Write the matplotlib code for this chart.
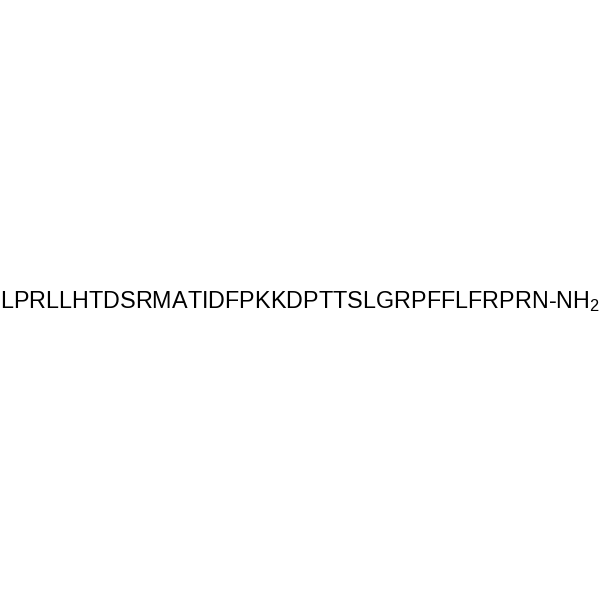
import matplotlib
matplotlib.use("Agg")
import matplotlib.pyplot as plt

# -----------------------
# Data
# -----------------------
sequence = "LPRLLHTDSRMATIDFPKKDPTTSLGRPFFLFRPRN"
terminus = "-NH$_2$"

plt.rcParams['font.family'] = ['Liberation Sans', 'DejaVu Sans']
plt.rcParams['mathtext.fontset'] = 'custom'
plt.rcParams['mathtext.rm'] = 'Liberation Sans'
plt.rcParams['mathtext.it'] = 'Liberation Sans'

fig = plt.figure(figsize=(6, 6), dpi=100)
fig.patch.set_facecolor('white')

fig.text(0.4995, 0.4975, sequence + terminus, ha='center', va='center',
         fontsize=16.8, color='black')

fig.savefig("out.png", dpi=100, facecolor='white')
